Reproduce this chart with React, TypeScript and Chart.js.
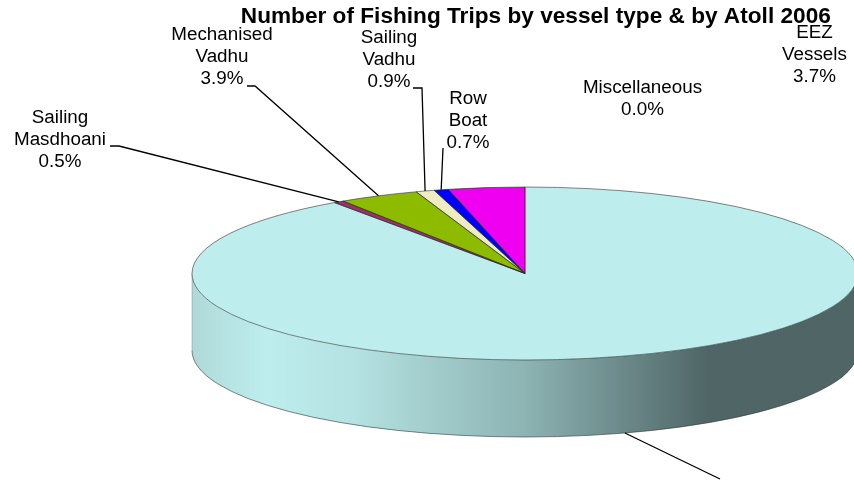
import React, { useEffect, useRef } from "react";
import { Chart, registerables } from "chart.js";

Chart.register(...registerables);

const TITLE = "Number of Fishing Trips by vessel type & by Atoll 2006";
const categories = ["Masdhoni", "Sailing Masdhoani", "Mechanised Vadhu", "Sailing Vadhu", "Row Boat", "Miscellaneous", "EEZ Vessels"];
const shares = [90.3, 0.5, 3.9, 0.9, 0.7, 0.0, 3.7];
const colors = ["#BDEDED", "#993366", "#8CBB00", "#EEECC0", "#0000FF", "#FFFFFF", "#F000F0"];

// label layout: [category index, lines of the name, centre x, first line y]
const labelBoxes: [number, string[], number, number][] = [
  [1, ["Sailing", "Masdhoani"], 60, 118],
  [2, ["Mechanised", "Vadhu"], 222, 35],
  [3, ["Sailing", "Vadhu"], 389, 38],
  [4, ["Row", "Boat"], 468, 99],
  [5, ["Miscellaneous"], 642.5, 88],
  [6, ["EEZ", "Vessels"], 814.5, 33],
];
// leader lines: [category index, elbow points from label towards the pie]
const leaders: [number, number[][]][] = [
  [1, [[110, 146], [119, 146]]],
  [2, [[247, 86], [255, 86]]],
  [3, [[413, 88], [422, 88]]],
  [4, [[443, 148]]],
  [0, [[720, 479]]],
];

const CX = 525, CY = 273.5, RX = 333, RY = 86.5, DEPTH = 77;
const LABEL_FONT = "18px 'Liberation Sans', Arial, sans-serif";
const LABEL_STRETCH = 1.045;
const TITLE_FONT = "bold 21.5px 'Liberation Sans', Arial, sans-serif";
const TITLE_STRETCH = 1.053;

function project(a: number) {
  return [CX + RX * Math.cos(a), CY + RY * Math.sin(a)];
}

function stretchedText(ctx: any, text: string, x: number, y: number, k: number) {
  ctx.save();
  ctx.translate(x, y);
  ctx.scale(k, 1);
  ctx.fillText(text, 0, 0);
  ctx.restore();
}

const pie3d = {
  id: "pie3d",
  beforeDatasetDraw(chart: any) {
    const { ctx } = chart;
    const arcs = chart.getDatasetMeta(0).data;
    // side wall, front half only
    arcs.forEach((arc: any, i: number) => {
      const { startAngle, endAngle } = arc.getProps(["startAngle", "endAngle"], true);
      const s = Math.max(startAngle, 0), e = Math.min(endAngle, Math.PI);
      if (e <= s) return;
      const g = ctx.createLinearGradient(CX - RX, 0, CX + RX, 0);
      g.addColorStop(0, "#AFD9D9");
      g.addColorStop(0.11, colors[i]);
      g.addColorStop(0.24, "#B5E2E2");
      g.addColorStop(0.5, "#8DB3B3");
      g.addColorStop(0.775, "#4F6566");
      g.addColorStop(1, "#4F6566");
      ctx.save();
      ctx.beginPath();
      ctx.ellipse(CX, CY, RX, RY, 0, s, e);
      ctx.ellipse(CX, CY + DEPTH, RX, RY, 0, e, s, true);
      ctx.closePath();
      ctx.fillStyle = g;
      ctx.fill();
      ctx.strokeStyle = "rgba(50,50,50,0.85)";
      ctx.lineWidth = 0.7;
      ctx.beginPath();
      ctx.ellipse(CX, CY + DEPTH, RX, RY, 0, s, e);
      ctx.stroke();
      ctx.strokeStyle = "rgba(90,110,110,0.5)";
      ctx.beginPath();
      ctx.moveTo(CX - RX, CY);
      ctx.lineTo(CX - RX, CY + DEPTH);
      ctx.stroke();
      ctx.restore();
    });
    // squash the circular pie into the tilted ellipse
    const first = arcs[0].getProps(["x", "y", "outerRadius"], true);
    ctx.save();
    ctx.translate(CX, CY);
    ctx.scale(RX / first.outerRadius, RY / first.outerRadius);
    ctx.translate(-first.x, -first.y);
  },
  afterDatasetDraw(chart: any) {
    const { ctx } = chart;
    const arcs = chart.getDatasetMeta(0).data;
    ctx.restore();
    // outlines keep an even width: drawn outside the squash
    ctx.save();
    ctx.lineJoin = "round";
    arcs.forEach((arc: any, i: number) => {
      const { startAngle, endAngle } = arc.getProps(["startAngle", "endAngle"], true);
      if (shares[i] <= 0) return;
      ctx.beginPath();
      ctx.moveTo(CX, CY);
      ctx.ellipse(CX, CY, RX, RY, 0, startAngle, endAngle);
      ctx.closePath();
      ctx.strokeStyle = "rgba(35,40,40,0.8)";
      ctx.lineWidth = 0.7;
      ctx.stroke();
    });
    ctx.restore();
  },
  afterDraw(chart: any) {
    const { ctx } = chart;
    const arcs = chart.getDatasetMeta(0).data;
    ctx.save();
    ctx.strokeStyle = "#000";
    ctx.lineWidth = 1.3;
    leaders.forEach(([i, pts]) => {
      const { startAngle, endAngle } = arcs[i].getProps(["startAngle", "endAngle"], true);
      const mid = (startAngle + endAngle) / 2;
      const [x, y] = project(mid);
      const front = Math.sin(mid) > 0;
      ctx.beginPath();
      ctx.moveTo(pts[0][0], pts[0][1]);
      pts.slice(1).forEach((p) => ctx.lineTo(p[0], p[1]));
      ctx.lineTo(x, front ? y + DEPTH : y);
      ctx.stroke();
    });
    ctx.fillStyle = "#000";
    ctx.textAlign = "center";
    ctx.textBaseline = "middle";
    ctx.font = TITLE_FONT;
    stretchedText(ctx, TITLE, 535.8, 17, TITLE_STRETCH);
    ctx.font = LABEL_FONT;
    labelBoxes.forEach(([i, lines, x, y]) => {
      [...lines, shares[i].toFixed(1) + "%"].forEach((t, k) => stretchedText(ctx, t, x, y + k * 22, LABEL_STRETCH));
    });
    ctx.restore();
  },
};

export default function App() {
  const ref = useRef<HTMLCanvasElement>(null);
  useEffect(() => {
    document.body.style.margin = "0";
    const chart = new Chart(ref.current!, {
      type: "pie",
      data: {
        labels: categories,
        datasets: [{ data: shares, backgroundColor: colors, borderWidth: 0, clip: false } as any],
      },
      options: {
        responsive: false,
        animation: false,
        plugins: {
          legend: { display: false },
          tooltip: { enabled: false },
        },
      },
      plugins: [pie3d],
    } as any);
    return () => chart.destroy();
  }, []);
  return <canvas ref={ref} width={854} height={481} style={{ display: "block", background: "#fff" }} />;
}
